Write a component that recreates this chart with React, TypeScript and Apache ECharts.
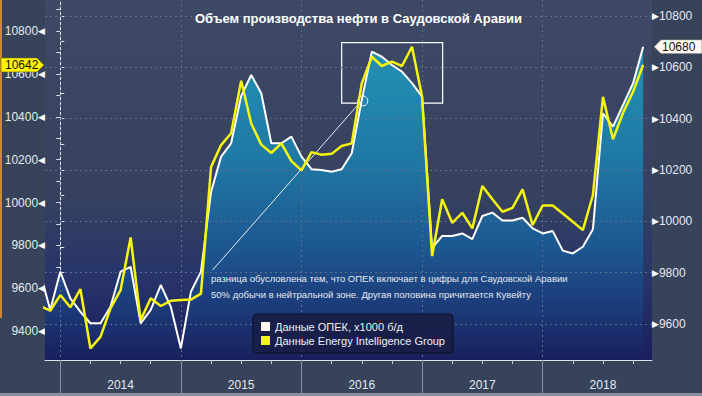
import React, { useEffect, useRef } from 'react';
import * as echarts from 'echarts';

// Monthly points, Nov 2013 .. Nov 2018
const START = '2013-11';
const END = '2018-11';

// OPEC data (right axis), x1000 b/d
const opecData = [
  9799, 9655,
  9804, 9700, 9648, 9603, 9603, 9667, 9804, 9823, 9603, 9655, 9752, 9667,
  9505, 9726, 9804, 10114, 10252, 10304, 10488, 10570, 10499, 10304, 10304, 10330,
  10252, 10203, 10200, 10193, 10203, 10265, 10473, 10661, 10641, 10609, 10583, 10538,
  10486, 9896, 9943, 9943, 9953, 9931, 10021, 10034, 10003, 10003, 10014, 9973,
  9953, 9962, 9886, 9875, 9901, 9969, 10421, 10369, 10453, 10538, 10680,
];

// Energy Intelligence Group data (left axis)
const eigData = [
  9517, 9495,
  9568, 9511, 9596, 9319, 9373, 9506, 9591, 9837, 9451, 9553, 9517, 9541,
  9545, 9547, 9575, 10165, 10268, 10323, 10568, 10369, 10270, 10231, 10276, 10193,
  10150, 10235, 10223, 10227, 10264, 10276, 10556, 10680, 10637, 10657, 10637, 10727,
  10493, 9750, 10015, 9905, 9952, 9879, 10077, 10015, 9957, 9975, 10061, 9895,
  9986, 9986, 9949, 9910, 9871, 10035, 10493, 10295, 10419, 10517, 10642,
];

const yearLabels = ['2014', '2015', '2016', '2017', '2018'];
const leftLabels = [9400, 9600, 9800, 10000, 10200, 10400, 10600, 10800];
const leftTicks = [9300, 9400, 9500, 9600, 9700, 9800, 9900, 10000, 10100, 10200, 10300, 10400, 10500, 10600, 10700, 10800, 10900];
const rightLabels = [9600, 9800, 10000, 10200, 10400, 10600, 10800];
const rightTicks = [9500, 9600, 9700, 9800, 9900, 10000, 10100, 10200, 10300, 10400, 10500, 10600, 10700, 10800];

const TITLE = 'Объем производства нефти в Саудовской Аравии';
const NOTE1 = 'разница обусловлена тем, что ОПЕК включает в цифры для Саудовской Аравии';
const NOTE2 = '50% добычи в нейтральной зоне. Другая половина причитается Кувейту';
const OPEC_NAME = 'Данные ОПЕК, x1000 б/д';
const EIG_NAME = 'Данные Energy Intelligence Group';

// month index: 0 = Jan 2014
const monthIndex = (m: string) => {
  const [y, mo] = m.split('-').map(Number);
  return (y - 2014) * 12 + (mo - 1);
};
const months: string[] = [];
for (let i = monthIndex(START); i <= monthIndex(END); i++) {
  const y = 2014 + Math.floor(i / 12);
  const mo = ((i % 12) + 12) % 12 + 1;
  months.push(`${y}-${String(mo).padStart(2, '0')}`);
}
const xs = months.map(monthIndex);
const quarterTicks: number[] = [];
for (let i = 0; i <= 57; i += 3) quarterTicks.push(i);
const yearBounds = yearLabels.map((_, k) => k * 12);
const yearMids = yearLabels.map((_, k) => k * 12 + 6);

const X_MIN = -1.52;
const X_MAX = 58.88;
const L_MIN = 9265;
const L_MAX = 10945;
const R_MIN = 9460;
const R_MAX = 10862;

const FONT = 'Liberation Sans, Arial, sans-serif';

export default function App() {
  const ref = useRef<HTMLDivElement>(null);
  useEffect(() => {
    if (!ref.current) return;
    const chart = echarts.init(ref.current, undefined, { renderer: 'svg' });
    const opecPts = xs.map((x, i) => [x, opecData[i]]);
    const eigPts = xs.map((x, i) => [x, eigData[i]]);
    const axisColor = '#dde1e8';
    const labelColor = '#e6e9ef';

    const option: any = {
      animation: false,
      backgroundColor: '#37425b',
      textStyle: { fontFamily: FONT },
      title: {
        text: TITLE,
        left: 190,
        top: 7,
        textStyle: { color: '#ffffff', fontSize: 13, fontWeight: 'bold', fontFamily: FONT },
      },
      legend: {
        orient: 'vertical',
        left: 253,
        top: 314,
        icon: 'rect',
        itemWidth: 9,
        itemHeight: 9,
        itemGap: 1,
        padding: [6, 8, 6, 8],
        backgroundColor: 'rgba(24,30,70,0.9)',
        borderColor: '#0b0f22',
        borderWidth: 1,
        borderRadius: 4,
        textStyle: { color: '#eef0f4', fontSize: 11, lineHeight: 13, fontFamily: FONT },
        data: [
          { name: OPEC_NAME, itemStyle: { color: '#fdf6f0' } },
          { name: EIG_NAME, itemStyle: { color: '#f5f50f' } },
        ],
        selectedMode: false,
      },
      grid: {
        left: 45,
        right: 50,
        top: 0,
        bottom: 36,
        show: true,
        borderWidth: 0,
        backgroundColor: new echarts.graphic.LinearGradient(0, 0, 0, 1, [
          { offset: 0, color: '#3d4965' },
          { offset: 0.55, color: '#35415f' },
          { offset: 0.76, color: '#28356a' },
          { offset: 1, color: '#1a1f5d' },
        ]),
      },
      xAxis: [
        {
          type: 'value',
          min: X_MIN,
          max: X_MAX,
          position: 'bottom',
          splitNumber: 20,
          axisLine: { show: true, onZero: false, lineStyle: { color: axisColor, width: 1 } },
          axisTick: { show: true, length: 4, customValues: quarterTicks, lineStyle: { color: '#c4c8d0' } },
          axisLabel: {
            show: true,
            customValues: yearMids,
            formatter: (v: number) => yearLabels[Math.round((v - 6) / 12)] ?? '',
            color: labelColor,
            fontSize: 12,
            margin: 19,
            fontFamily: FONT,
          },
          splitLine: { show: false },
        },
        {
          type: 'value',
          min: X_MIN,
          max: X_MAX,
          position: 'bottom',
          z: 3,
          axisLine: { show: false, onZero: false },
          axisTick: { show: true, length: 33, customValues: yearBounds, lineStyle: { color: '#8b91a0' } },
          axisLabel: { show: false },
          splitLine: { show: true, lineStyle: { color: '#5e6c88', type: [2, 3], width: 1 } },
        },
      ],
      yAxis: [
        {
          type: 'value',
          min: L_MIN,
          max: L_MAX,
          position: 'left',
          axisLine: { show: true, lineStyle: { color: axisColor, width: 1 } },
          axisTick: { show: true, length: 4, customValues: leftTicks, lineStyle: { color: axisColor } },
          axisLabel: {
            show: true,
            customValues: leftLabels,
            formatter: (v: number) => `${v}{t|◀}`,
            color: labelColor,
            fontSize: 12,
            margin: 0,
            fontFamily: FONT,
            rich: { t: { fontSize: 9, color: '#ffffff', fontFamily: 'DejaVu Sans' } },
          },
          splitLine: { show: false },
        },
        {
          type: 'value',
          min: R_MIN,
          max: R_MAX,
          position: 'right',
          axisLine: { show: true, lineStyle: { color: axisColor, width: 1 } },
          axisTick: { show: true, length: 4, customValues: rightTicks, lineStyle: { color: axisColor } },
          axisLabel: {
            show: true,
            customValues: rightLabels,
            formatter: (v: number) => `{t|▶}${v}`,
            color: labelColor,
            fontSize: 12,
            margin: 0,
            fontFamily: FONT,
            rich: { t: { fontSize: 9, color: '#ffffff', fontFamily: 'DejaVu Sans' } },
          },
          splitLine: { show: false },
        },
        {
          type: 'value',
          min: R_MIN,
          max: R_MAX,
          position: 'right',
          z: 3,
          axisLine: { show: false },
          axisTick: { show: false, customValues: rightLabels },
          axisLabel: { show: false },
          splitLine: { show: true, lineStyle: { color: '#5e6c88', type: [2, 3], width: 1 } },
        },
      ],
      series: [
        {
          name: 'opec-area',
          type: 'line',
          xAxisIndex: 0,
          yAxisIndex: 1,
          data: opecPts,
          showSymbol: false,
          silent: true,
          z: 1,
          lineStyle: { width: 0 },
          areaStyle: {
            origin: 'start',
            opacity: 1,
            color: new echarts.graphic.LinearGradient(0, 0, 0, 1, [
              { offset: 0, color: '#2292b4' },
              { offset: 0.35, color: '#1f79a5' },
              { offset: 0.65, color: '#1d5690' },
              { offset: 0.85, color: '#1c3877' },
              { offset: 1, color: '#1a1f5d' },
            ]),
          },
        },
        {
          name: OPEC_NAME,
          type: 'line',
          xAxisIndex: 0,
          yAxisIndex: 1,
          data: opecPts,
          showSymbol: false,
          z: 5,
          color: '#fdf6f0',
          lineStyle: { color: '#ffffff', width: 2 },
          markArea: {
            silent: true,
            itemStyle: { color: 'rgba(0,0,0,0)', borderColor: '#ffffff', borderWidth: 1.2 },
            label: { show: false },
            data: [[{ coord: [28, 10696] }, { coord: [38.05, 10460] }]],
          },
          markPoint: {
            silent: true,
            symbol: 'circle',
            symbolSize: 10,
            label: { show: false },
            itemStyle: { color: 'rgba(0,0,0,0)', borderColor: '#ffffff', borderWidth: 1 },
            data: [{ coord: [30.1, 10469] }],
          },
          markLine: {
            silent: true,
            symbol: ['none', 'none'],
            label: { show: false },
            lineStyle: { color: '#e8ecf2', width: 1, type: 'solid' },
            data: [[{ coord: [15.15, 9810] }, { coord: [29.65, 10455] }]],
          },
        },
        {
          name: EIG_NAME,
          type: 'line',
          xAxisIndex: 0,
          yAxisIndex: 0,
          data: eigPts,
          showSymbol: false,
          z: 6,
          color: '#f5f50f',
          lineStyle: { color: '#f5f50f', width: 2.5 },
        },
      ],
    };
    chart.setOption(option);

    const lastE = eigData[eigData.length - 1];
    const lastO = opecData[opecData.length - 1];
    const yL = chart.convertToPixel({ yAxisIndex: 0 }, lastE) as number;
    const yR = chart.convertToPixel({ yAxisIndex: 1 }, lastO) as number;
    const xL = chart.convertToPixel({ xAxisIndex: 0 }, X_MIN) as number;
    const xR = chart.convertToPixel({ xAxisIndex: 0 }, X_MAX) as number;
    const h = 7;

    chart.setOption({
      graphic: [
        { type: 'rect', shape: { x: 0, y: 0, width: 2, height: 318 }, style: { fill: '#c98a33' }, z: 100 },
        { type: 'rect', shape: { x: 0, y: 393, width: 702, height: 3 }, style: { fill: '#8a8e98' }, z: 100 },
        {
          type: 'text',
          left: 211,
          top: 273,
          style: { text: NOTE1, fill: '#e6eaf0', fontSize: 9.5, fontFamily: FONT },
          z: 50,
        },
        {
          type: 'text',
          left: 211,
          top: 289,
          style: { text: NOTE2, fill: '#e6eaf0', fontSize: 9.5, fontFamily: FONT },
          z: 50,
        },
        {
          type: 'polygon',
          z: 100,
          shape: { points: [[1, yL - h], [xL - 8, yL - h], [xL - 1, yL], [xL - 8, yL + h], [1, yL + h]] },
          style: { fill: '#fff200', stroke: '#6b6000', lineWidth: 0.6 },
        },
        {
          type: 'text',
          z: 101,
          x: 5,
          y: yL,
          style: { text: String(lastE), fill: '#111111', fontSize: 12, fontFamily: FONT, verticalAlign: 'middle' },
        },
        {
          type: 'polygon',
          z: 100,
          shape: { points: [[xR + 2, yR], [xR + 9, yR - h], [702, yR - h], [702, yR + h], [xR + 9, yR + h]] },
          style: { fill: '#fff8f0', stroke: '#555555', lineWidth: 0.6 },
        },
        {
          type: 'text',
          z: 101,
          x: xR + 10,
          y: yR,
          style: { text: String(lastO), fill: '#111111', fontSize: 12, fontFamily: FONT, verticalAlign: 'middle' },
        },
      ],
    });

    return () => chart.dispose();
  }, []);

  return (
    <div
      ref={ref}
      style={{ position: 'fixed', left: 0, top: 0, width: 702, height: 396 }}
    />
  );
}
